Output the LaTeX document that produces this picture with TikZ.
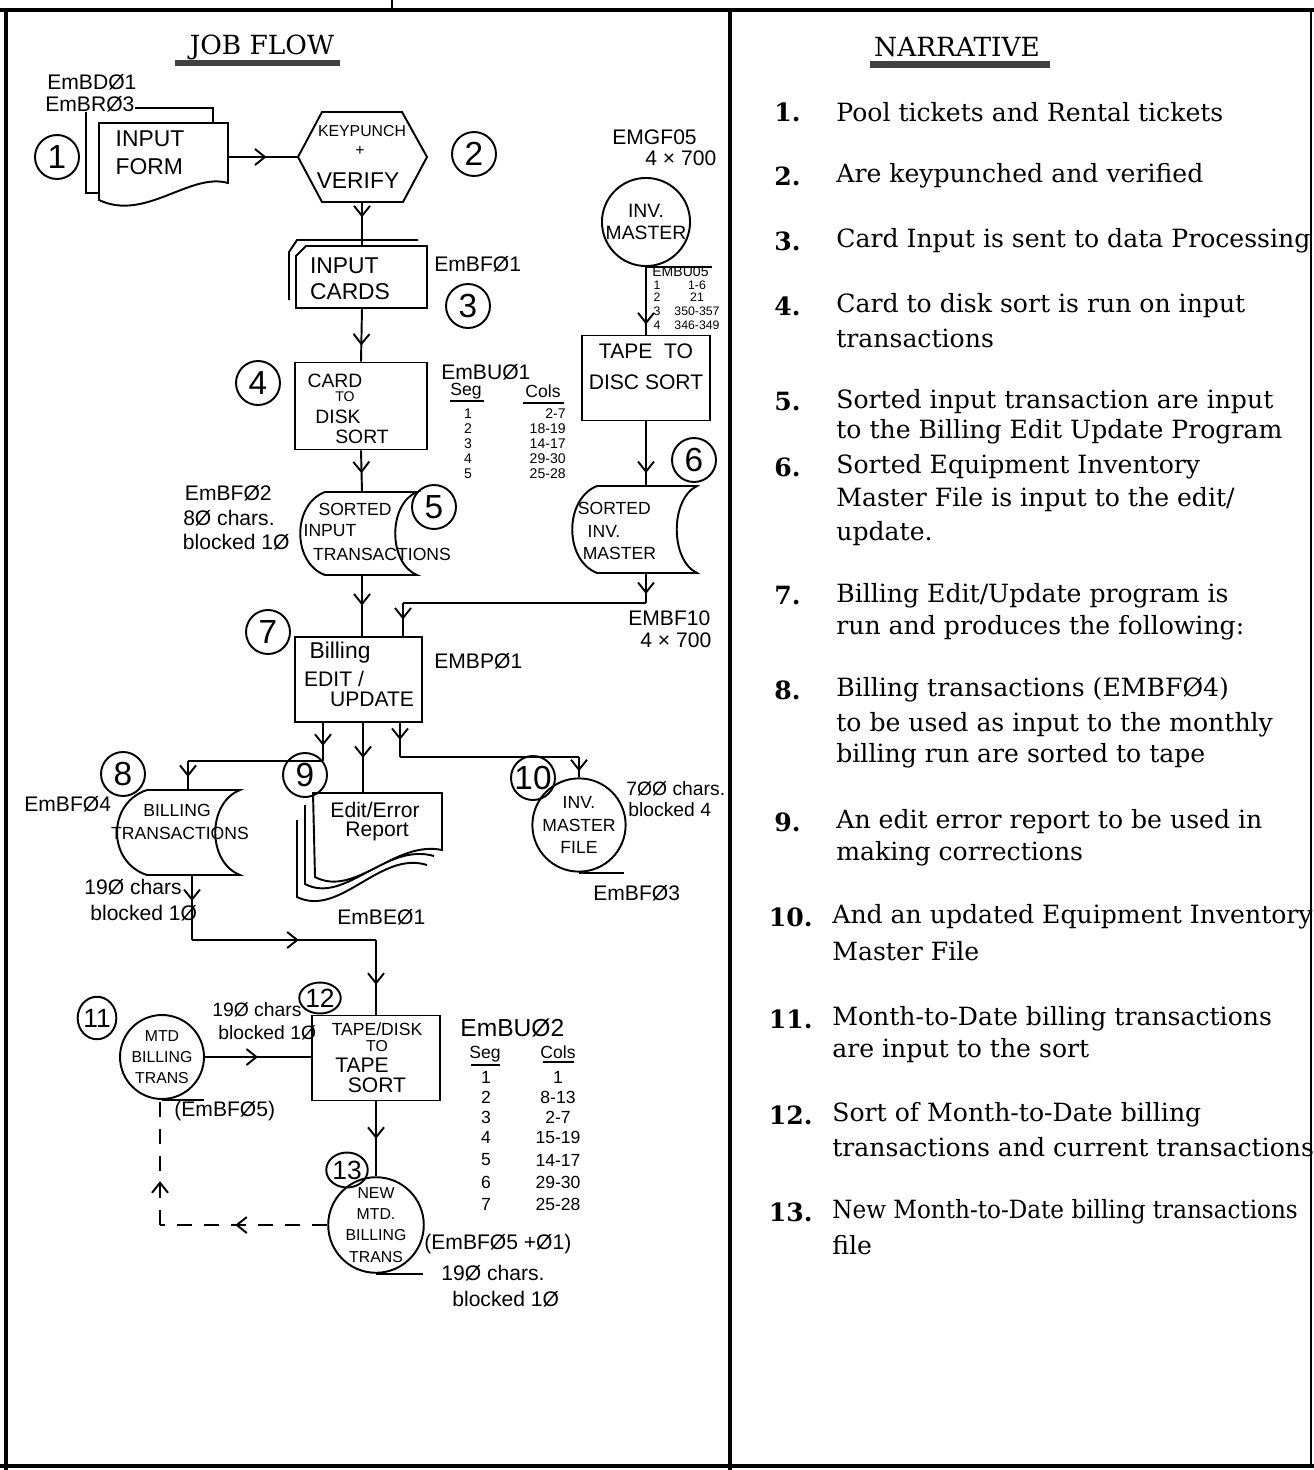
\documentclass[tikz,border=0pt]{standalone}
\usepackage{fontspec}
\setmainfont{DejaVu Serif}
\newfontfamily\handf{Liberation Sans}
\usetikzlibrary{arrows.meta,decorations.markings,shapes.geometric}
\newcommand\hs[1]{\handf\fontsize{#1}{#1}\selectfont}
\newcommand\nf{\fontsize{14.3}{17}\selectfont}
\tikzset{
  ln/.style={line width=1.1pt},
  marr/.style={postaction={decorate},decoration={markings,mark=at position #1 with {\arrow[line width=1.1pt]{Straight Barb[length=0.2cm,width=0.32cm]}}}},
  box/.style={draw, ln, rectangle, inner sep=0},
  numc/.style={circle, draw, ln, minimum size=0.88cm, inner sep=0, font=\hs{19}},
  nume/.style={ellipse, draw, ln, inner sep=0, font=\hs{15}},
  tapec/.style={circle, draw, ln, inner sep=0, align=center, font=\hs{10}},
  hl/.style={inner sep=0, font=\hs{12}},
  hsm/.style={inner sep=0, font=\hs{10}},
  htn/.style={inner sep=0, font=\hs{8}},
  narr/.style={anchor=west, inner sep=0, font=\nf},
  nnum/.style={anchor=east, inner sep=0, font=\nf\bfseries},
  dsh/.style={ln, dash pattern=on 0.3cm off 0.24cm},
}
\begin{document}
\begin{tikzpicture}[x=0.02cm,y=-0.02cm]
\useasboundingbox (0,0) rectangle (1314,1470);
\clip (0,0) rectangle (1314,1470);
% ---------- frame ----------
\draw[line width=2.2pt] (0,10) -- (1314,10);
\draw[line width=2.8pt] (6,10) -- (6,1470);
\draw[line width=1.8pt] (730,10) -- (730,1470);
\draw[line width=2pt] (0,1466) -- (1314,1466);
\draw[line width=0.8pt] (1311,10) -- (1311,1466);
\draw[line width=1pt] (392,0) -- (392,10);
% ---------- titles ----------
\node[font=\fontsize{15}{15}\selectfont] (jft) at (262,47) {JOB FLOW};
\fill[black!75] (175,60) rectangle (340,66);
\node[font=\fontsize{15}{15}\selectfont] (nrt) at (957,47) {NARRATIVE};
\fill[black!75] (870,61) rectangle (1050,68);
% ---------- 1 input form ----------
\node[numc] (c1) at (57,157) {1};
\node[hl, anchor=west] (l1a) at (47,82) {EmBDØ1};
\node[hl, anchor=west] (l1b) at (45,104) {EmBRØ3};
\draw[ln] (99,193) -- (86,193) -- (86,112);
\draw[ln] (135,108) -- (213,108) -- (213,123);
\draw[ln] (99,123) -- (228,123) -- (228,183) .. controls (190,172) and (145,222) .. (99,200) -- cycle;
\node[hl, font=\hs{13}, align=left] (form) at (150,153) {INPUT\\[3pt]FORM};
\coordinate (formE) at (228,157);
% ---------- 2 keypunch ----------
\draw[ln] (298,157) -- (322,112) -- (402,112) -- (427,157) -- (403,202) -- (322,202) -- cycle;
\node[hl, font=\hs{9}] (kp1) at (362,131) {KEYPUNCH};
\node[hl, font=\hs{9}] (kp2) at (360,151) {+};
\node[hl, font=\hs{13}] (kp3) at (358,181) {VERIFY};
\coordinate (hexW) at (298,157);
\coordinate (hexS) at (362,202);
\node[numc] (c2) at (474,154) {2};
\draw[ln, marr=0.55] (formE) -- (hexW);
% ---------- 3 input cards ----------
\draw[ln] (289,300) -- (289,252) -- (297,240) -- (418,240);
\draw[ln, fill=white] (296,256) -- (306,246) -- (427,246) -- (427,308) -- (296,308) -- cycle;
\node[hl, font=\hs{13}, align=left] (cards) at (350,279) {INPUT\\[2pt]CARDS};
\coordinate (cardsN) at (362,246);
\coordinate (cardsS) at (362,308);
\node[hl, anchor=west] (l3) at (434,264) {EmBFØ1};
\node[numc] (c3) at (468,306) {3};
\draw[ln, marr=0.35] (hexS) -- (cardsN);
% ---------- 4 card to disk ----------
\node[box, minimum width=2.64cm, minimum height=1.74cm] (c2d) at (361,406) {};
\node[hl, font=\hs{11}] (c2dt1) at (335,381) {CARD};
\node[hl, font=\hs{8}] (c2dt2) at (345,397) {TO};
\node[hl, font=\hs{11}] (c2dt3) at (338,417) {DISK};
\node[hl, font=\hs{11}] (c2dt4) at (362,437) {SORT};
\node[numc] (c4) at (258,383) {4};
\draw[ln, marr=0.7] (cardsS) -- (c2d.north);
\node[hl, anchor=west] (t1h) at (441,372) {EmBUØ1};
\node[hsm] (t1s) at (466,391) {Seg};
\draw[ln] (450,401) -- (484,401);
\node[hsm] (t1c) at (543,391) {Cols};
\draw[ln] (523,403) -- (564,403);
\foreach \s/\c/\y [count=\i] in {1/2-7/414, 2/18-19/429, 3/14-17/444, 4/29-30/459, 5/25-28/474}{
  \node[htn] (t1r\i) at (468,\y) {\s};
  \node[htn, anchor=east] (t1v\i) at (566,\y) {\c};
}
% ---------- 5 sorted input ----------
\draw[ln, fill=white] (325,492) -- (417,492) .. controls (388,504) and (388,563) .. (417,575) -- (325,575) .. controls (292,563) and (292,504) .. (325,492) -- cycle;
\node[hsm] (si1) at (355,509) {SORTED};
\node[hsm] (si2) at (330,531) {INPUT};
\node[hsm] (si3) at (382,554) {TRANSACTIONS};
\coordinate (siN) at (362,492);
\coordinate (siS) at (362,575);
\node[numc] (c5) at (434,507) {5};
\node[hl, anchor=east] (l5a) at (272,493) {EmBFØ2};
\node[hl, anchor=east] (l5b) at (275,518) {8Ø chars.};
\node[hl, anchor=east] (l5c) at (290,542) {blocked 1Ø};
\draw[ln, marr=0.55] (c2d.south) -- (siN);
% ---------- inv master ----------
\node[tapec, minimum size=1.7cm, font=\hs{11}] (inv) at (646,222) {INV.\\[2pt]MASTER};
\draw[ln] (inv.south) -- ++(66,0);
\node[hl, anchor=west] (l6a) at (612,137) {EMGF05};
\node[hl, anchor=west] (l6b) at (645,158) {4 × 700};
\node[htn, anchor=west] (t5h) at (652,272) {EMBU05};
\foreach \s/\c/\y [count=\i] in {1/1-6/285, 2/21/297, 3/350-357/311, 4/346-349/325}{
  \node[htn, font=\hs{7}] (t5r\i) at (657,\y) {\s};
  \node[htn, font=\hs{7}] (t5v\i) at (697,\y) {\c};
}
\node[box, minimum width=2.56cm, minimum height=1.7cm] (tds) at (646,378) {};
\node[hl] (tds1) at (646,351) {TAPE\ \ TO};
\node[hl] (tds2) at (646,382) {DISC SORT};
\draw[ln, marr=0.85] (inv.south) -- (tds.north);
% ---------- 6 sorted inv master ----------
\draw[ln, fill=white] (597,486) -- (697,486) .. controls (670,499) and (670,560) .. (697,573) -- (597,573) .. controls (564,560) and (564,499) .. (597,486) -- cycle;
\node[hsm, align=left] (sim) at (617,531) {SORTED\\[3pt]\ \ INV.\\[3pt]\ MASTER};
\coordinate (simN) at (646,486);
\coordinate (simS) at (646,573);
\node[numc] (c6) at (694,460) {6};
\draw[ln, marr=0.8] (tds.south) -- (simN);
\coordinate (j1) at (646,603);
\coordinate (j2) at (403,603);
\draw[ln, marr=0.7] (simS) -- (j1);
\draw[ln] (j1) -- (j2);
\node[hl, anchor=west] (l10a) at (628,618) {EMBF10};
\node[hl, anchor=west] (l10b) at (640,640) {4 × 700};
% ---------- 7 billing edit update ----------
\node[box, minimum width=2.54cm, minimum height=1.7cm] (bill) at (358.5,679.5) {};
\node[hl, font=\hs{13}] (b1) at (340,653) {Billing};
\node[hl] (b2) at (334,679) {EDIT /};
\node[hl] (b3) at (372,699) {UPDATE};
\node[numc] (c7) at (268,632) {7};
\node[hl, anchor=west] (l7) at (434,661) {EMBPØ1};
\draw[ln, marr=0.5] (siS) -- (siS |- bill.north);
\draw[ln, marr=0.5] (j2) -- (j2 |- bill.north);
% ---------- 8 billing transactions ----------
\draw[ln, fill=white] (147,790) -- (240,790) .. controls (207,803) and (207,862) .. (240,875) -- (147,875) .. controls (107,862) and (107,803) .. (147,790) -- cycle;
\node[hsm] (bt1) at (177,810) {BILLING};
\node[hsm] (bt2) at (180,833) {TRANSACTIONS};
\coordinate (btN) at (188,790);
\coordinate (btS) at (192,875);
\node[numc] (c8) at (123,774) {8};
\node[hl, anchor=west] (l8) at (24,804) {EmBFØ4};
\node[hl, anchor=west] (l8b) at (84,887) {19Ø chars};
\node[hl, anchor=west] (l8c) at (90,913) {blocked 1Ø};
% ---------- 9 edit/error report ----------
\draw[ln] (297,820) -- (297,897) .. controls (340,918) and (380,850) .. (427,865);
\draw[ln] (305,805) -- (305,884) .. controls (345,905) and (385,842) .. (434,856);
\draw[ln, fill=white] (313,793) -- (442,793) -- (442,850) .. controls (395,840) and (355,898) .. (315,877) -- cycle;
\node[hl] (er1) at (375,810) {Edit/Error};
\node[hl] (er2) at (377,831) {Report};
\coordinate (erN) at (363,793);
\node[numc] (c9) at (305,775) {9};
\node[hl, anchor=west] (l9) at (337,917) {EmBEØ1};
% ---------- 10 inv master file ----------
\node[tapec, minimum size=1.74cm, font=\hs{10}] (inf) at (579,825) {INV.\\[3pt]MASTER\\[3pt]FILE};
\draw[ln] (inf.south) -- ++(45,0);
\node[numc] (c10) at (533,778) {10};
\node[hl, anchor=west, font=\hs{11}] (l10c) at (626,789) {7ØØ chars.};
\node[hl, anchor=west, font=\hs{11}] (l10d) at (628,810) {blocked 4};
\node[hl, anchor=west] (l10e) at (593,893) {EmBFØ3};
% outputs of billing
\coordinate (o1) at (323,761);
\coordinate (o3) at (400,757);
\draw[ln, marr=0.6] (bill.south -| o1) -- (o1);
\draw[ln] (o1) -- (o1 -| btN);
\draw[ln, marr=0.55] (o1 -| btN) -- (btN);
\draw[ln, marr=0.5] (bill.south -| erN) -- (erN);
\draw[ln, marr=0.5] (bill.south -| o3) -- (o3);
\draw[ln] (o3) -- (o3 -| inf.north);
\draw[ln, marr=0.7] (o3 -| inf.north) -- (inf.north);
% ---------- 12 tape/disk to tape sort ----------
\node[box, minimum width=2.56cm, minimum height=1.7cm] (tdt) at (376,1058) {};
\node[hl, font=\hs{10}] (td1) at (377,1029) {TAPE/DISK};
\node[hl, font=\hs{9}] (td2) at (377,1046) {TO};
\node[hl] (td3) at (362,1065) {TAPE};
\node[hl] (td4) at (377,1085) {SORT};
\node[nume, minimum width=0.72cm, minimum height=0.62cm] (c12) at (320,998) {12};
\node[hl, font=\hs{14}, anchor=west] (t2h) at (460,1028) {EmBUØ2};
\node[hsm] (t2s) at (485,1054) {Seg};
\draw[ln] (471,1065) -- (500,1065);
\node[hsm] (t2c) at (558,1052) {Cols};
\draw[ln] (543,1062) -- (574,1062);
\foreach \s/\c/\y [count=\i] in {1/1/1077, 2/8-13/1097, 3/2-7/1117, 4/15-19/1137, 5/14-17/1160, 6/29-30/1182, 7/25-28/1204}{
  \node[hsm] (t2r\i) at (486,\y) {\s};
  \node[hsm] (t2v\i) at (558,\y) {\c};
}
\coordinate (jb) at (192,940);
\coordinate (jc) at (376,940);
\draw[ln, marr=0.4] (btS) -- (jb);
\draw[ln, marr=0.58] (jb) -- (jc);
\draw[ln, marr=0.6] (jc) -- (tdt.north);
% ---------- 11 mtd billing trans ----------
\node[tapec, minimum size=1.68cm, font=\hs{9}] (mtd) at (162,1057) {MTD\\[3pt]BILLING\\[3pt]TRANS};
\draw[ln] (mtd.south) -- ++(42,0);
\node[nume, minimum width=0.68cm, minimum height=0.85cm] (c11) at (97,1018) {11};
\node[hl, anchor=west, font=\hs{11}] (l11a) at (212,1010) {19Ø chars};
\node[hl, anchor=west, font=\hs{11}] (l11b) at (218,1033) {blocked 1Ø};
\node[hl, anchor=west] (l11c) at (174,1111) {(EmBFØ5)};
\draw[ln, marr=0.5] (mtd.east) -- (mtd.east -| tdt.west);
% ---------- 13 new mtd ----------
\node[tapec, minimum size=1.68cm, font=\hs{9}] (nmtd) at (376,1225) {NEW\\[3pt]MTD.\\[3pt]BILLING\\[3pt]TRANS};
\draw[ln] (nmtd.south) -- ++(47,0);
\node[nume, minimum width=0.8cm, minimum height=0.7cm] (c13) at (347,1170) {13};
\draw[ln, marr=0.5] (tdt.south) -- (nmtd.north);
\node[hl, anchor=west] (l13a) at (424,1244) {(EmBFØ5 +Ø1)};
\node[hl, anchor=west] (l13b) at (441,1273) {19Ø chars.};
\node[hl, anchor=west] (l13c) at (452,1299) {blocked 1Ø};
\coordinate (dl) at (160,1225);
\draw[dsh, marr=0.55] (nmtd.west) -- (dl);
\draw[dsh, marr=0.35] (dl) -- (dl |- mtd.south);
% ---------- narrative ----------
\node[nnum] (m1) at (801,112) {1.};   \node[narr] (p1) at (836,112) {Pool tickets and Rental tickets};
\node[nnum] (m2) at (801,176) {2.};   \node[narr] (p2) at (836,176) {Are keypunched and verified};
\node[nnum] (m3) at (801,241) {3.};   \node[narr] (p3) at (836,241) {Card Input is sent to data Processing};
\node[nnum] (m4) at (801,306) {4.};   \node[narr] (p4) at (836,306) {Card to disk sort is run on input};
\node[narr] (p4b) at (836,338) {transactions};
\node[nnum] (m5) at (801,402) {5.};   \node[narr] (p5) at (836,402) {Sorted input transaction are input};
\node[narr] (p5b) at (836,432) {to the Billing Edit Update Program};
\node[nnum] (m6) at (801,467) {6.};   \node[narr] (p6) at (836,467) {Sorted Equipment Inventory};
\node[narr] (p6b) at (836,500) {Master File is input to the edit/};
\node[narr] (p6c) at (836,534) {update.};
\node[nnum] (m7) at (801,596) {7.};   \node[narr] (p7) at (836,596) {Billing Edit/Update program is};
\node[narr] (p7b) at (836,628) {run and produces the following:};
\node[nnum] (m8) at (801,690) {8.};   \node[narr] (p8) at (836,690) {Billing transactions (EMBFØ4)};
\node[narr] (p8b) at (836,725) {to be used as input to the monthly};
\node[narr] (p8c) at (836,756) {billing run are sorted to tape};
\node[nnum] (m9) at (801,822) {9.};   \node[narr] (p9) at (836,822) {An edit error report to be used in};
\node[narr] (p9b) at (836,854) {making corrections};
\node[nnum] (m10) at (813,917) {10.}; \node[narr] (p10) at (832,917) {And an updated Equipment Inventory};
\node[narr] (p10b) at (832,951) {Master File};
\node[nnum] (m11) at (813,1019) {11.}; \node[narr] (p11) at (832,1019) {Month-to-Date billing transactions};
\node[narr] (p11b) at (832,1051) {are input to the sort};
\node[nnum] (m12) at (813,1115) {12.}; \node[narr] (p12) at (832,1115) {Sort of Month-to-Date billing};
\node[narr] (p12b) at (832,1147) {transactions and current transactions};
\node[nnum] (m13) at (813,1212) {13.}; \node[narr] (p13) at (832,1212) {\scalebox{0.92}[1]{New Month-to-Date billing transactions}};
\node[narr] (p13b) at (832,1245) {file};
\end{tikzpicture}
\end{document}
